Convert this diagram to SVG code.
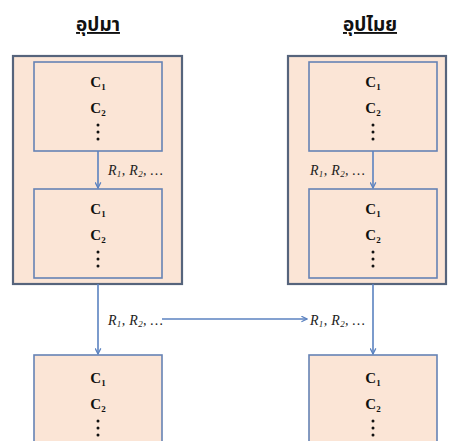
<svg xmlns="http://www.w3.org/2000/svg" width="453" height="441" viewBox="0 0 453 441">
  <style>
    .outer { fill: #fbe5d6; stroke: #56647c; stroke-width: 2.2; }
    .inner { fill: #fbe5d6; stroke: #6683b5; stroke-width: 1.6; }
    .title { font-family: "Liberation Serif", "Noto Sans Thai", "DejaVu Sans", sans-serif; font-size: 19px; font-weight: bold; fill: #111; text-anchor: middle; text-decoration: underline; }
    .c { font-family: "Liberation Serif", serif; font-size: 15px; font-weight: bold; fill: #111; text-anchor: middle; }
    .sub { font-size: 9px; }
    .r { font-family: "Liberation Serif", serif; font-size: 14px; font-style: italic; fill: #222; letter-spacing: 0.3px; }
    .dot { fill: #111; }
    .conn { stroke: #5b82c0; stroke-width: 1.6; fill: none; }
  </style>
  <defs>
    <marker id="arrow" viewBox="0 0 10 10" refX="9" refY="5" markerWidth="7" markerHeight="7" markerUnits="userSpaceOnUse" orient="auto">
      <path d="M1,1 L9,5 L1,9" fill="none" stroke="#5b82c0" stroke-width="1.8"/>
    </marker>
    <g id="stack">
      <text class="c" x="0" y="0">C<tspan class="sub" dy="3">1</tspan></text>
      <text class="c" x="0" y="26">C<tspan class="sub" dy="3">2</tspan></text>
      <circle class="dot" cx="0" cy="38" r="1.5"/>
      <circle class="dot" cx="0" cy="45" r="1.5"/>
      <circle class="dot" cx="0" cy="52" r="1.5"/>
    </g>
  </defs>

  <rect width="453" height="441" fill="#ffffff"/>

  <g id="title-left"><text class="title" x="98" y="31">อุปมา</text></g>
  <g id="title-right"><text class="title" x="370" y="31">อุปไมย</text></g>

  <g id="group-left">
    <rect class="outer" x="13" y="56" width="169" height="228"/>
  </g>
  <g id="group-right">
    <rect class="outer" x="288" y="56" width="158" height="228"/>
  </g>

  <g id="left-top">
    <rect class="inner" x="34" y="62" width="128" height="89"/>
    <use href="#stack" x="98" y="87"/>
  </g>
  <g id="left-mid">
    <rect class="inner" x="34" y="189" width="128" height="89"/>
    <use href="#stack" x="98" y="214"/>
  </g>
  <g id="left-bottom">
    <rect class="inner" x="34" y="355" width="128" height="100"/>
    <use href="#stack" x="98" y="383"/>
  </g>
  <g id="right-top">
    <rect class="inner" x="309" y="62" width="128" height="89"/>
    <use href="#stack" x="373" y="87"/>
  </g>
  <g id="right-mid">
    <rect class="inner" x="309" y="189" width="128" height="89"/>
    <use href="#stack" x="373" y="214"/>
  </g>
  <g id="right-bottom">
    <rect class="inner" x="309" y="355" width="128" height="100"/>
    <use href="#stack" x="373" y="383"/>
  </g>

  <g id="connectors">
    <line class="conn" x1="98" y1="151" x2="98" y2="188" marker-end="url(#arrow)"/>
    <line class="conn" x1="373" y1="151" x2="373" y2="188" marker-end="url(#arrow)"/>
    <line class="conn" x1="98" y1="284" x2="98" y2="354" marker-end="url(#arrow)"/>
    <line class="conn" x1="373" y1="284" x2="373" y2="354" marker-end="url(#arrow)"/>
    <line class="conn" x1="162" y1="319" x2="307" y2="319" marker-end="url(#arrow)"/>
    <text class="r" x="108" y="175">R<tspan class="sub" dy="2">1</tspan><tspan dy="-2">, R</tspan><tspan class="sub" dy="2">2</tspan><tspan dy="-2">, …</tspan></text>
    <text class="r" x="310" y="175">R<tspan class="sub" dy="2">1</tspan><tspan dy="-2">, R</tspan><tspan class="sub" dy="2">2</tspan><tspan dy="-2">, …</tspan></text>
    <text class="r" x="108" y="325">R<tspan class="sub" dy="2">1</tspan><tspan dy="-2">, R</tspan><tspan class="sub" dy="2">2</tspan><tspan dy="-2">, …</tspan></text>
    <text class="r" x="310" y="325">R<tspan class="sub" dy="2">1</tspan><tspan dy="-2">, R</tspan><tspan class="sub" dy="2">2</tspan><tspan dy="-2">, …</tspan></text>
  </g>
</svg>
